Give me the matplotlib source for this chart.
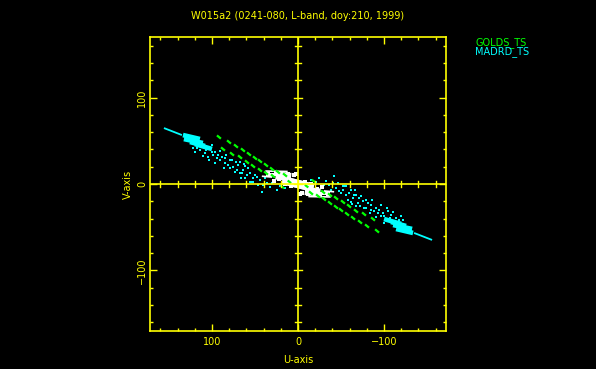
import numpy as np
import matplotlib.pyplot as plt

title = "W015a2 (0241-080, L-band, doy:210, 1999)"
baseline_names = ["GOLDS_TS", "MADRD_TS"]
baseline_colors = ["#00ff00", "#00ffff"]

# uv points in kilo-lambda, one half only (conjugates are drawn too)
# MADRD_TS: outer track, dense end and scattered points
madrd_track = [(155.8, 64.7, 134.9, 56.6)]
madrd_core = [(133.7, 56.6, 114.0, 52.0),
              (132.6, 52.0, 110.5, 47.4),
              (125.6, 48.6, 108.1, 43.9),
              (119.8, 46.2, 100.0, 40.5)]
madrd_u = [122.1, 114.0, 108.1, 102.3, 98.8, 94.2, 90.7, 88.4, 84.9, 81.4,
           79.1, 75.6, 70.9, 69.8, 65.1, 64.0, 59.3, 55.8, 52.3, 47.7,
           55.8, 44.2, 40.7, 36.0, 32.6, 41.9, 24.4, 52.3, 116.3, 110.5,
           119.8, 104.7, 96.5, 84.9, 76.7, 67.4, 61.6, 67.4, 61.6, 53.5,
           107.0, 100.0, 93.0, 110.5, 103.5, 96.5, 86.0, 79.1, 72.1, 83.7,
           73.3, 66.3, 58.1, 50.0, 46.5, 38.4, 30.2, 20.9, 15.1, 62.8,
           90.7, 117.4, 100.0]
madrd_v = [41.6, 39.3, 35.8, 40.5, 33.5, 30.1, 27.7, 31.2, 24.3, 22.0,
           18.5, 19.7, 16.2, 22.0, 12.7, 16.2, 10.4, 12.7, 6.9, 8.1,
           2.3, 4.6, -1.2, 1.2, -3.5, -9.2, -6.9, 2.3, 43.9, 42.8,
           37.0, 31.2, 37.0, 30.1, 27.7, 25.4, 20.8, 12.7, 6.9, 2.3,
           39.3, 37.0, 33.5, 32.4, 27.7, 24.3, 18.5, 27.7, 25.4, 33.5,
           13.9, 6.9, 18.5, 10.4, -1.2, 6.9, 1.2, -2.3, -4.6, 23.1,
           38.2, 41.6, 45.1]

# GOLDS_TS: short track pieces (u0, v0, u1, v1)
golds_dashes = [(94.2, 56.2, 89.6, 52.4), (82.5, 50.5, 77.9, 46.7),
                (74.4, 45.8, 69.8, 42.0), (66.3, 41.2, 61.7, 37.4),
                (59.3, 36.6, 54.7, 32.8), (52.3, 32.0, 47.7, 28.2),
                (46.5, 28.5, 41.9, 24.7), (39.5, 23.9, 34.9, 20.1),
                (32.5, 19.2, 27.9, 15.4), (25.6, 15.8, 21.0, 12.0),
                (17.4, 12.3, 12.8, 8.5),
                (89.5, 42.4, 84.9, 38.6), (79.0, 36.6, 74.4, 32.8),
                (69.7, 33.1, 65.1, 29.3), (61.6, 27.3, 57.0, 23.5),
                (54.6, 22.7, 50.0, 18.9), (46.5, 18.1, 41.9, 14.3),
                (39.5, 14.6, 34.9, 10.8), (31.4, 11.1, 26.8, 7.3),
                (12.0, 4.0, 8.0, 1.0), (20.0, -2.0, 16.0, -5.0)]

# short baseline near the origin (white)
short_core = [(18.0, 4.5, -18.0, -4.5), (26.0, 10.0, 8.0, 8.0)]
short_streaks = [(38.0, 15.0, 12.0, 14.5), (42.0, 9.0, 30.0, 8.0)]
short_u = [22.0, 26.0, 12.0, 5.0, 8.0, 30.0, 15.0, 2.0, 35.0, 28.0]
short_v = [6.0, 12.0, 11.0, 10.0, -2.0, 10.0, 0.0, 11.0, 12.0, 4.0]

yellow = "#ffff00"
plt.rcParams['font.family'] = 'DejaVu Sans'
fig = plt.figure(figsize=(5.96, 3.69), dpi=100, facecolor='black')
ax = fig.add_axes([0.2517, 0.103, 0.4966, 0.7967])
ax.set_facecolor('black')


def both(u, v):
    u = np.asarray(u, float)
    v = np.asarray(v, float)
    return np.concatenate([u, -u]), np.concatenate([v, -v])


def segs(items, color, lw):
    for u0, v0, u1, v1 in items:
        for s in (1, -1):
            ax.plot([s * u0, s * u1], [s * v0, s * v1], color=color, lw=lw,
                    solid_capstyle='butt')


# MADRD_TS
cyan = baseline_colors[1]
segs(madrd_track, cyan, 1.3)
segs(madrd_core, cyan, 3.4)
mu, mv = both(madrd_u, madrd_v)
ax.plot(mu, mv, 's', color=cyan, ms=2.0, mew=0)

# short baseline
segs(short_core, 'white', 6)
segs(short_streaks, 'white', 1.2)
su, sv = both(short_u, short_v)
ax.plot(su, sv, 's', color='white', ms=2.5, mew=0)

# GOLDS_TS
segs(golds_dashes, baseline_colors[0], 1.6)

ax.set_xlim(172, -172)
ax.set_ylim(-170, 170)

# axes through the origin with their own ticks
ax.axhline(0, color=yellow, lw=1.2)
ax.axvline(0, color=yellow, lw=1.2)
minor = np.arange(-160, 161, 20)
for t in minor:
    h = 5 if t % 100 == 0 else 3
    ax.plot([t, t], [-h, h], color=yellow, lw=1)
    ax.plot([-h, h], [t, t], color=yellow, lw=1)

ax.set_xticks([100, 0, -100])
ax.set_yticks([-100, 0, 100])
ax.set_xticks(minor, minor=True)
ax.set_yticks(minor, minor=True)
ax.tick_params(which='both', direction='in', top=True, right=True,
               colors=yellow, labelsize=7)
ax.tick_params(which='major', length=5, width=1)
ax.tick_params(which='minor', length=2.5, width=1)
ax.tick_params(axis='x', pad=4)
ax.tick_params(axis='y', pad=2)
for lab in ax.get_yticklabels():
    lab.set_rotation(90)
    lab.set_va('center')
for sp in ax.spines.values():
    sp.set_color(yellow)
    sp.set_linewidth(1.2)

ax.set_xlabel("U-axis", color=yellow, fontsize=7, labelpad=6)
ax.set_ylabel("V-axis", color=yellow, fontsize=7, labelpad=3)
ax.set_title(title, color=yellow, fontsize=7, pad=13)

for i, (name, col) in enumerate(zip(baseline_names, baseline_colors)):
    fig.text(0.797, 0.886 - i * 0.027, name, color=col, fontsize=7,
             va='center', ha='left')

fig.savefig("out.png", dpi=100, facecolor='black')
